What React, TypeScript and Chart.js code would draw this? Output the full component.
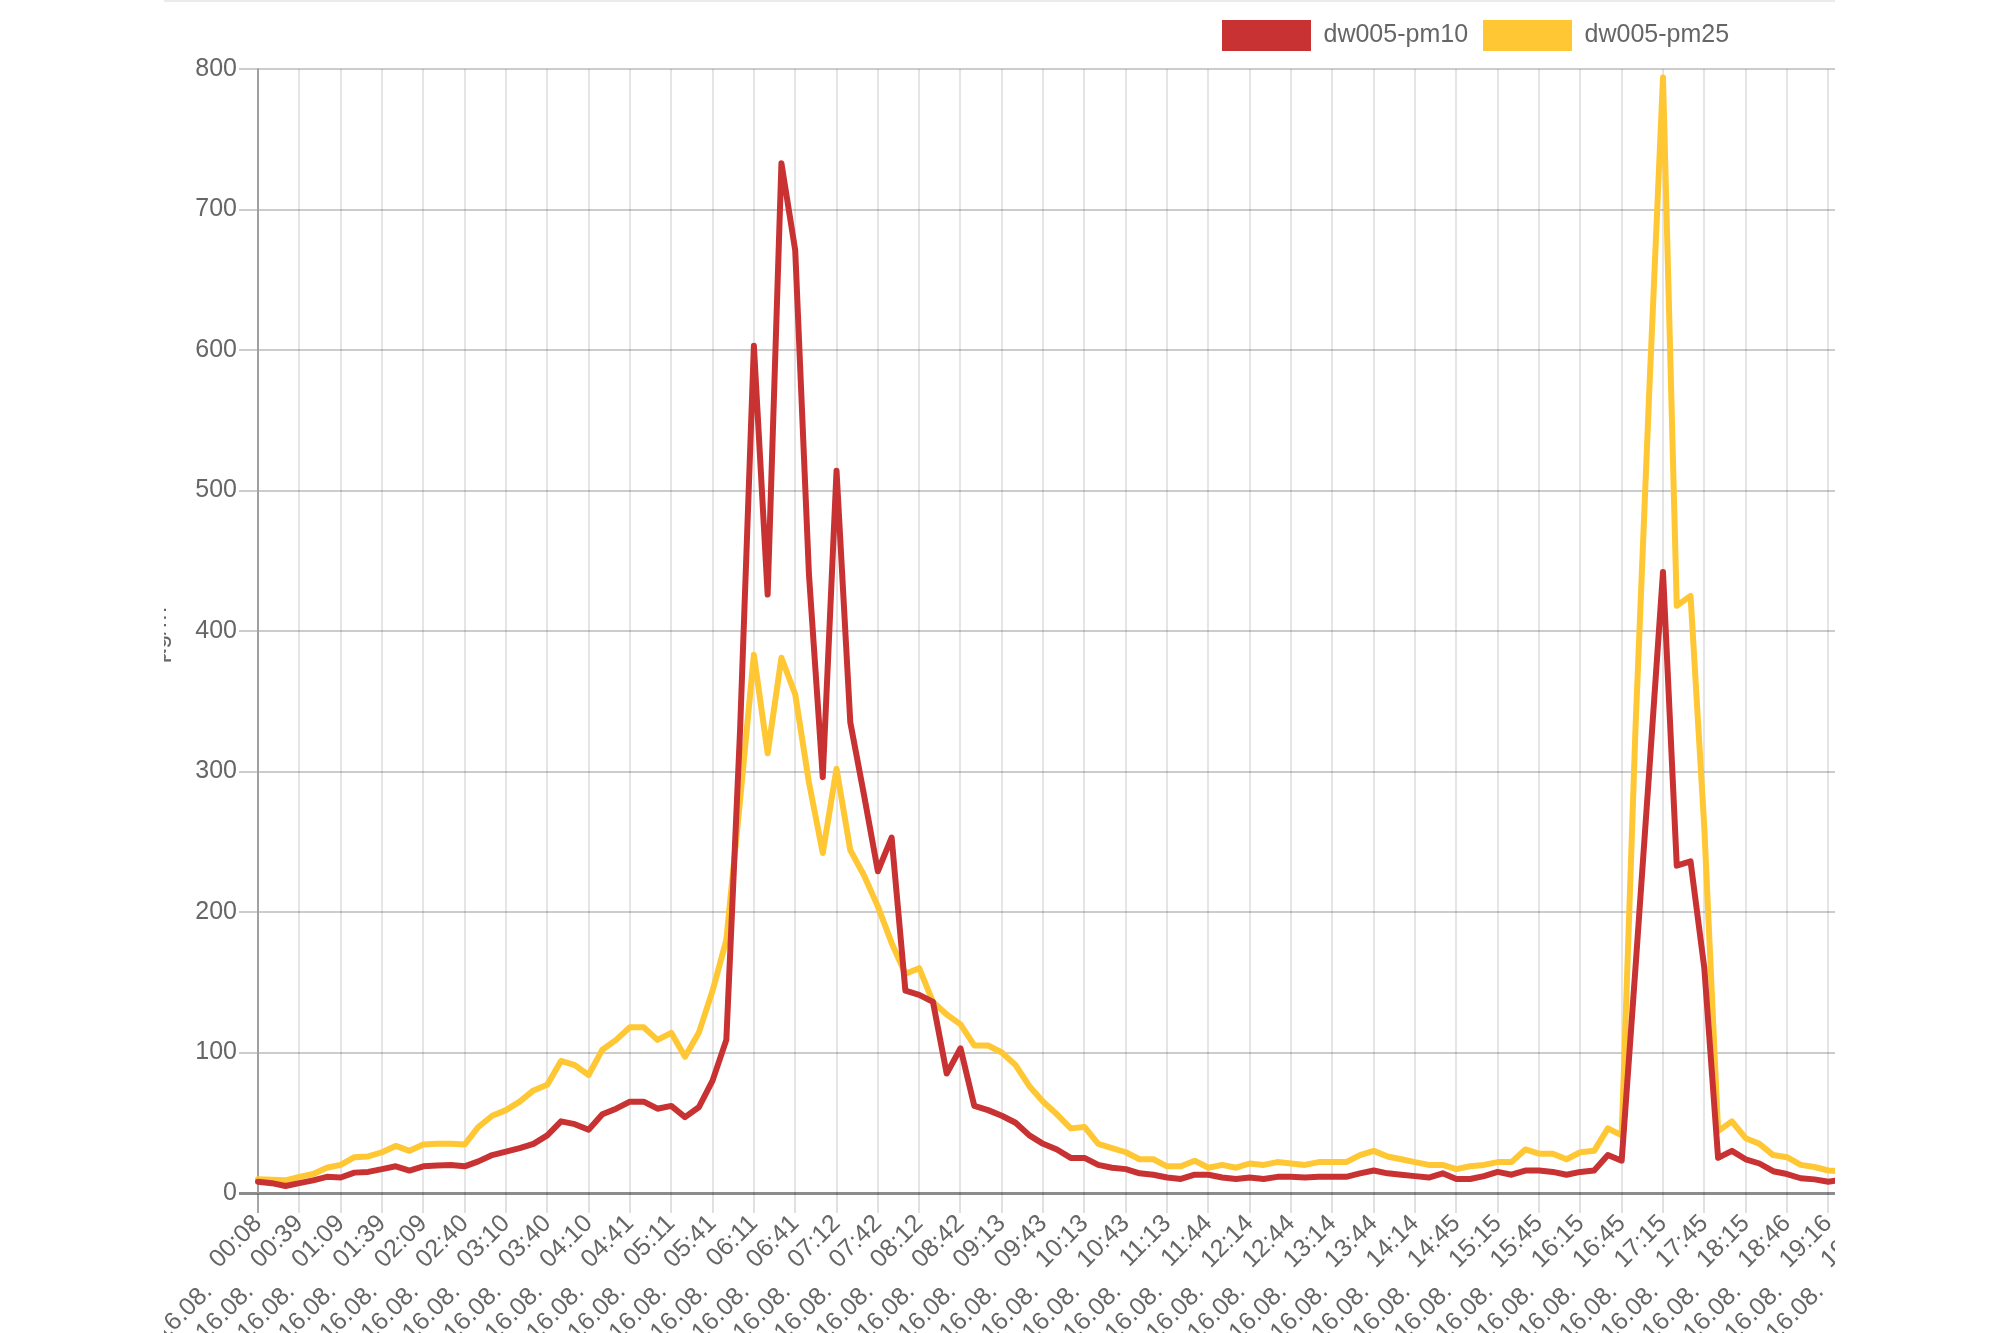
import React, { useEffect, useRef } from "react";
import { Chart, registerables } from "chart.js";

Chart.register(...registerables);

// ---------- data ----------
const dateLabel = "16.08.";
const times = [
  "00:08", "00:18", "00:28", "00:39", "00:49", "00:59", "01:09", "01:19", "01:29", "01:39",
  "01:49", "01:59", "02:09", "02:19", "02:30", "02:40", "02:50", "03:00", "03:10", "03:20",
  "03:30", "03:40", "03:50", "04:00", "04:10", "04:20", "04:31", "04:41", "04:51", "05:01",
  "05:11", "05:21", "05:31", "05:41", "05:51", "06:01", "06:11", "06:21", "06:31", "06:41",
  "06:51", "07:02", "07:12", "07:22", "07:32", "07:42", "07:52", "08:02", "08:12", "08:22",
  "08:32", "08:42", "08:53", "09:03", "09:13", "09:23", "09:33", "09:43", "09:53", "10:03",
  "10:13", "10:23", "10:33", "10:43", "10:53", "11:03", "11:13", "11:23", "11:34", "11:44",
  "11:54", "12:04", "12:14", "12:24", "12:34", "12:44", "12:54", "13:04", "13:14", "13:24",
  "13:34", "13:44", "13:54", "14:04", "14:14", "14:24", "14:35", "14:45", "14:55", "15:05",
  "15:15", "15:25", "15:35", "15:45", "15:55", "16:05", "16:15", "16:25", "16:35", "16:45",
  "16:55", "17:05", "17:15", "17:25", "17:35", "17:45", "17:55", "18:05", "18:15", "18:25",
  "18:36", "18:46", "18:56", "19:06", "19:16", "19:26", "19:36", "19:46",
];

const pm10 = [
  8, 7, 5, 7, 9, 11.5, 11, 14.5, 15, 17,
  19, 16, 19, 19.5, 20, 19, 22.5, 27, 29.5, 32,
  35, 41, 51, 49, 45, 56, 60, 65, 65, 60,
  62, 54, 61, 80, 109, 330, 603, 426, 733, 671,
  440, 296, 514, 335, 283, 229, 253, 144, 141, 136,
  85, 103, 62, 59, 55, 50, 41, 35, 31, 25,
  25, 20, 18, 17, 14, 13, 11, 10, 13, 13,
  11, 10, 11, 10, 11.5, 11.5, 11, 11.5, 11.5, 11.5,
  14, 16, 14, 13, 12, 11, 14, 10, 10, 12,
  15, 13, 16, 16, 15, 13, 15, 16, 27, 23,
  160, 300, 442, 233, 236, 160, 25, 30, 24, 21,
  15.5, 13.5, 10.5, 9.7, 8, 9.5, 9, 9,
];

const pm25 = [
  9.7, 9.5, 9, 11.5, 13.5, 18, 20, 25.5, 26, 29,
  33.5, 30, 34.5, 35, 35, 34.5, 47, 55, 59, 65,
  73, 77, 94, 91, 84, 102, 109, 118, 118, 109,
  114, 97, 114, 144, 180, 280, 383, 313, 381, 355,
  292, 242, 302, 244, 226, 204, 178, 156, 160, 136,
  127, 120, 105, 105, 100, 91, 76, 65, 56, 46,
  47, 35, 32, 29, 24, 24, 19, 19, 23, 18,
  20, 18, 21, 20, 22, 21, 20, 22, 22, 22,
  27, 30, 26, 24, 22, 20, 20, 17, 19, 20,
  22, 22, 31, 28, 28, 24, 29, 30, 46, 41,
  330, 570, 794, 418, 425, 260, 44, 51, 39, 35,
  27, 25.5, 20, 18.5, 16, 15.5, 15, 15,
];

const seriesNames = ["dw005-pm10", "dw005-pm25"];
const seriesColors = ["#c93232", "#ffc733"];
const yTitle = "µg/m³";
const yMin = 0;
const yMax = 800;
const yStep = 100;

// ---------- layout ----------
const FONT = "'Liberation Sans', Arial, Helvetica, sans-serif";
const CANVAS_LEFT = 140; // page x of canvas
const CLIP_LEFT = 164;
const CLIP_RIGHT = 1835;
const CANVAS_W = 1750;
const CANVAS_H = 1333;
const AREA_LEFT = 258;
const AREA_BOTTOM = 1193;
const LEGEND_START = 1222;
const LABEL_PAD = "            ";

const legendPlacer = {
  id: "legendPlacer",
  afterLayout(chart: any) {
    const lg = chart.legend;
    if (!lg) return;
    const pad = lg.options.labels.padding;
    const w = lg.right - lg.left;
    lg.left = LEGEND_START - CANVAS_LEFT - pad;
    lg.right = lg.left + w;
  },
};

export default function App() {
  const ref = useRef<HTMLCanvasElement | null>(null);

  useEffect(() => {
    if (!ref.current) return;
    const labels = times.map((t) => [t, dateLabel + LABEL_PAD]);
    const chart = new Chart(ref.current, {
      type: "line",
      data: {
        labels,
        datasets: [pm10, pm25].map((d, i) => ({
          label: seriesNames[i],
          data: d,
          borderColor: seriesColors[i],
          backgroundColor: seriesColors[i],
          borderWidth: 6,
          pointRadius: 0,
          pointHoverRadius: 0,
          tension: 0,
          fill: false,
          borderJoinStyle: "round" as const,
          borderCapStyle: "round" as const,
        })),
      },
      options: {
        animation: false,
        responsive: false,
        devicePixelRatio: 1,
        layout: { padding: { top: 5, left: 0, right: 0, bottom: 0 } },
        plugins: {
          tooltip: { enabled: false },
          subtitle: {
            display: true,
            text: "",
            weight: 500,
            padding: 0,
            font: { size: 8, lineHeight: 1 },
          } as any,
          legend: {
            position: "top",
            align: "start",
            labels: {
              boxWidth: 89,
              boxHeight: 31,
              padding: 15,
              color: "#666",
              font: { family: FONT, size: 25 },
              generateLabels: (c: any) =>
                Chart.defaults.plugins.legend.labels
                  .generateLabels(c)
                  .map((l: any) => ({ ...l, lineWidth: 0 })),
            },
          },
        },
        scales: {
          x: {
            type: "category",
            grid: {
              color: (ctx: any) =>
                ctx.index % 3 === 0 ? "rgba(0,0,0,0.1)" : "rgba(0,0,0,0)",
              tickColor: (ctx: any) =>
                ctx.index === 0
                  ? "rgba(0,0,0,0.35)"
                  : ctx.index % 3 === 0
                  ? "rgba(0,0,0,0.12)"
                  : "rgba(0,0,0,0)",
              lineWidth: 2,
              tickLength: 20,
            },
            border: { display: false },
            ticks: {
              autoSkip: false,
              minRotation: 45,
              maxRotation: 45,
              padding: 2,
              color: "#666",
              font: { family: FONT, size: 25, lineHeight: "13px" },
              callback: function (this: any, value: any, index: number) {
                return index % 3 === 0 ? this.getLabelForValue(value) : "";
              },
            },
            afterFit: (scale: any) => {
              scale.height = CANVAS_H - AREA_BOTTOM;
            },
          },
          y: {
            min: yMin,
            max: yMax,
            ticks: {
              stepSize: yStep,
              color: "#666",
              padding: 2,
              font: { family: FONT, size: 25 },
            },
            grid: {
              color: (ctx: any) =>
                ctx.tick && ctx.tick.value === 0
                  ? "rgba(0,0,0,0.45)"
                  : "rgba(0,0,0,0.2)",
              lineWidth: (ctx: any) => (ctx.tick && ctx.tick.value === 0 ? 3 : 2),
              tickLength: 19,
            },
            border: { color: "rgba(0,0,0,0.3)", width: 2 },
            title: {
              display: true,
              text: yTitle,
              color: "#666",
              font: { family: FONT, size: 25 },
              padding: { top: 4, bottom: 4 },
            },
            afterFit: (scale: any) => {
              scale.width = AREA_LEFT - CANVAS_LEFT;
            },
          },
        },
      },
      plugins: [legendPlacer],
    } as any);
    return () => chart.destroy();
  }, []);

  return (
    <div
      style={{
        position: "absolute",
        left: 0,
        top: 0,
        width: 2000,
        height: 1333,
        background: "#fff",
        overflow: "hidden",
      }}
    >
      <div
        style={{
          position: "absolute",
          left: CLIP_LEFT,
          top: 0,
          width: CLIP_RIGHT - CLIP_LEFT,
          height: CANVAS_H,
          overflow: "hidden",
        }}
      >
        <canvas
          ref={ref}
          width={CANVAS_W}
          height={CANVAS_H}
          style={{
            position: "absolute",
            left: CANVAS_LEFT - CLIP_LEFT,
            top: 0,
            width: CANVAS_W,
            height: CANVAS_H,
          }}
        />
      </div>
      <div
        style={{
          position: "absolute",
          left: CLIP_LEFT,
          top: 0,
          width: CLIP_RIGHT - CLIP_LEFT,
          height: 2,
          background: "#ebebeb",
        }}
      />
    </div>
  );
}
